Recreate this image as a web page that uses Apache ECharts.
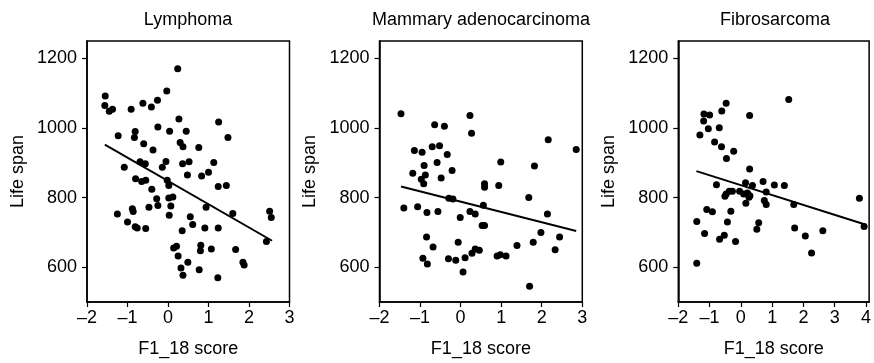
<!DOCTYPE html>
<html><head><meta charset="utf-8">
<script src="https://cdn.jsdelivr.net/npm/echarts@6/dist/echarts.min.js"></script>
<style>html,body{margin:0;padding:0;background:#fff}#c{width:874px;height:363px}</style>
</head><body><div id="c"></div>
<script>
// ---- data ----
const panelTitles = ['Lymphoma', 'Mammary adenocarcinoma', 'Fibrosarcoma'];
const xAxisName = 'F1_18 score';
const yAxisName = 'Life span';
const yTicks = [600, 800, 1000, 1200];
const xTicksA = [-2, -1, 0, 1, 2, 3];
const xTicksB = [-2, -1, 0, 1, 2, 3, 4];

const lymX = [0.24,-1.55,-1.56,-1.45,-1.37,-0.91,-0.62,-0.41,-0.26,-0.03,0.27,-0.25,0.04,0.45,1.25,1.48,-1.23,-0.81,-0.83,-0.60,-0.37,0.30,0.37,0.76,-0.69,-0.56,-1.08,-0.05,-0.14,0.36,0.52,1.13,1.00,0.83,0.48,-0.80,-0.65,-0.55,-0.02,0.02,-0.40,1.24,1.44,-0.28,0.02,0.12,0.07,-0.25,-0.47,-0.88,-0.86,-1.25,0.03,0.94,0.55,0.61,1.60,2.51,2.55,-1.00,-0.81,-0.76,-0.55,0.35,0.91,1.24,2.43,0.14,0.21,0.81,0.80,1.07,1.67,0.25,0.49,1.85,1.88,0.32,0.77,0.37,1.23];
const lymY = [1170,1092,1065,1048,1054,1054,1071,1060,1080,1106,1026,1003,991,991,1017,973,978,990,973,955,937,958,946,944,903,897,887,904,887,897,903,901,873,862,865,854,846,850,850,835,824,832,835,797,799,802,776,777,772,768,760,753,749,772,745,723,754,761,743,730,716,713,711,705,713,713,674,655,660,663,647,652,651,632,614,614,606,598,593,577,570];
const lymFitX = [-1.56, 2.57];
const lymFitY = [952, 676];

const mamX = [-1.47,0.23,0.27,-0.64,-0.40,2.16,-1.14,-0.95,-0.70,-0.52,-0.33,-0.90,-0.58,0.99,1.82,-1.18,-0.87,-0.21,-0.48,-0.97,0.59,0.59,0.94,-0.91,1.68,-1.40,-1.06,-0.83,-0.56,-0.29,-0.19,-0.01,0.23,0.36,0.56,0.53,0.59,2.14,-0.84,-0.68,-0.06,-0.93,-0.82,-0.30,-0.12,0.11,0.06,0.28,0.36,0.46,0.90,0.98,1.12,1.39,1.70,1.79,1.98,2.33,2.44,2.85];
const mamY = [1041,1036,985,1009,1005,966,935,930,946,949,924,892,901,902,891,870,865,878,856,853,840,830,835,840,800,770,774,757,760,798,796,743,760,753,778,720,720,753,687,658,672,626,609,624,620,627,586,640,652,649,632,636,632,662,545,672,700,650,687,938];
const mamFitX = [-1.47, 2.85];
const mamFitY = [832, 704];

const fibX = [1.53,-0.47,-0.61,-1.18,-1.00,-1.19,0.28,-1.04,-0.69,-1.31,-0.84,-0.62,-0.23,-0.46,0.28,-0.78,0.15,0.37,0.71,1.07,1.39,-0.47,-0.37,-0.27,-0.51,-0.04,0.09,0.21,0.29,0.26,0.81,0.75,0.81,0.16,1.69,3.79,3.94,-1.09,-0.91,-0.32,-1.41,-0.43,0.57,0.51,1.72,-1.16,-0.53,-0.68,-0.17,2.06,2.62,2.26,-1.41];
const fibY = [1082,1071,1049,1040,1037,1020,1036,998,1001,980,960,946,933,912,882,837,843,835,846,836,835,810,818,818,804,818,810,813,805,801,816,792,780,784,780,798,717,766,759,761,731,730,728,709,713,697,692,680,674,690,705,641,611];
const fibFitX = [-1.42, 4.0];
const fibFitY = [876, 722];

// ---- layout ----
const FONT = '"Liberation Sans", Arial, Helvetica, sans-serif';
const FS = 18;
const zip = (a, b) => a.map((v, i) => [v, b[i]]);
const fmtX = v => Number.isInteger(v) ? (v < 0 ? '\u2013' + Math.abs(v) : String(v)) : '';
const fmtY = v => String(v);

const panels = [
  {title: panelTitles[0], xs: lymX, ys: lymY, fx: lymFitX, fy: lymFitY, xt: xTicksA, xmin: -2, xmax: 3, left: 87, width: 202.5, tc: 188},
  {title: panelTitles[1], xs: mamX, ys: mamY, fx: mamFitX, fy: mamFitY, xt: xTicksA, xmin: -2, xmax: 3, left: 379.5, width: 202.8, tc: 481},
  {title: panelTitles[2], xs: fibX, ys: fibY, fx: fibFitX, fy: fibFitY, xt: xTicksB, xmin: -2, xmax: 4.1, left: 678.3, width: 197.6, tc: 775}
];

const axisLine = {show: true, onZero: false, lineStyle: {color: '#000', width: 1.5}};
const option = {
  animation: false,
  backgroundColor: '#fff',
  title: panels.map(p => ({text: p.title, left: p.tc, top: 11, textAlign: 'center', padding: 0,
    textStyle: {fontFamily: FONT, fontSize: FS, fontWeight: 'normal', color: '#000'}})),
  grid: panels.map(p => ({left: p.left, top: 41, width: p.width, height: 264, show: true,
    borderColor: '#000', borderWidth: 1.5, backgroundColor: 'transparent', containLabel: false})),
  xAxis: panels.map((p, i) => ({
    type: 'value', gridIndex: i, min: p.xmin, max: p.xmax,
    axisLine: axisLine,
    axisTick: {show: true, length: 5, inside: false, customValues: p.xt, lineStyle: {color: '#000', width: 1.2}},
    axisLabel: {customValues: p.xt, formatter: fmtX, color: '#000', fontFamily: FONT, fontSize: FS, margin: 7, showMinLabel: true, showMaxLabel: true, hideOverlap: false},
    splitLine: {show: false},
    name: xAxisName, nameLocation: 'middle', nameGap: 38,
    nameTextStyle: {fontFamily: FONT, fontSize: FS, color: '#000'}
  })),
  yAxis: panels.map((p, i) => ({
    type: 'value', gridIndex: i, min: 500, max: 1250,
    axisLine: axisLine,
    axisTick: {show: true, length: 5, inside: false, customValues: yTicks, lineStyle: {color: '#000', width: 1.2}},
    axisLabel: {customValues: yTicks, formatter: fmtY, color: '#000', fontFamily: FONT, fontSize: FS, margin: 10, hideOverlap: false},
    splitLine: {show: false},
    name: yAxisName, nameLocation: 'middle', nameGap: 60,
    nameTextStyle: {fontFamily: FONT, fontSize: FS, color: '#000'}
  })),
  series: panels.flatMap((p, i) => ([
    {type: 'scatter', xAxisIndex: i, yAxisIndex: i, data: zip(p.xs, p.ys), symbol: 'circle', symbolSize: 7,
      itemStyle: {color: '#000', opacity: 1}, silent: true},
    {type: 'line', xAxisIndex: i, yAxisIndex: i, data: zip(p.fx, p.fy), symbol: 'none',
      lineStyle: {color: '#000', width: 2}, silent: true}
  ]))
};
const chart = echarts.init(document.getElementById('c'), null, {renderer: 'canvas'});
chart.setOption(option);
</script>
</body></html>
